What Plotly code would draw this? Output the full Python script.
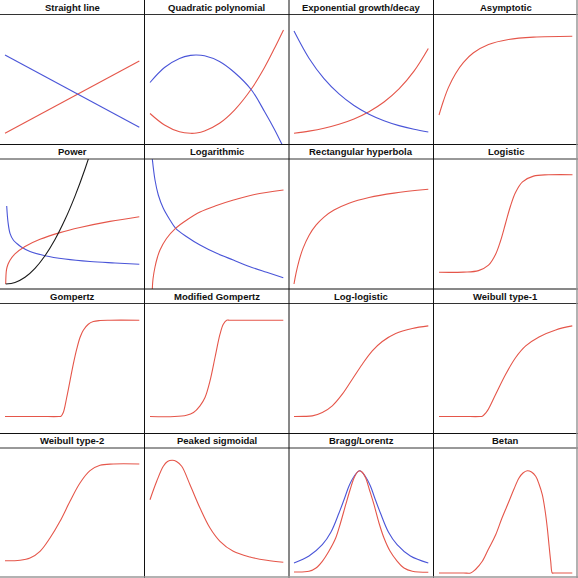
import plotly.graph_objects as go

RED = "#e5564a"
BLUE = "#4a55d8"
BLACK = "#1a1a1a"

titles = [
    "Straight line", "Quadratic polynomial", "Exponential growth/decay", "Asymptotic",
    "Power", "Logarithmic", "Rectangular hyperbola", "Logistic",
    "Gompertz", "Modified Gompertz", "Log-logistic", "Weibull type-1",
    "Weibull type-2", "Peaked sigmoidal", "Bragg/Lorentz", "Betan",
]

# values (x from panel left, y from panel bottom)
straight_x = [5, 139.3]
straight_red = [11.2, 83.5]
straight_blue = [89.5, 17.2]

quad_x = [5.5, 20, 35, 46, 52, 60, 75, 90, 107, 120, 130, 139]
quad_red = [31, 19.5, 12.7, 11.2, 11.5, 13.5, 21.2, 34.4, 55.7, 77, 96.2, 114.5]
quad_blue = [62, 77, 86, 89.1, 89.5, 88.7, 83, 72, 54.5, 33, 15, -3]

expo_x = [5, 20, 35, 50, 65, 80, 95, 110, 125, 139.3]
expo_blue = [113.5, 86.3, 65.9, 50.6, 39, 30.3, 23.8, 18.9, 15.2, 12.5]
expo_red = [11.2, 13.4, 16.3, 20.3, 25.6, 32.8, 42.5, 55.6, 73.3, 96]

asym_x = [5.5, 10, 15, 22, 30, 40, 55, 75, 100, 138.8]
asym_y = [29.5, 43.8, 57.1, 70.8, 82.2, 91.7, 100, 105, 107.4, 108.3]

power_blue_x = [6.7, 8, 10, 13.3, 16.7, 21.7, 30, 45, 65, 90, 115, 139.3]
power_blue_y = [83, 67, 55.7, 49, 45.7, 41.7, 37.5, 33.3, 30, 27.5, 26, 24.7]
power_red_x = [5.7, 6.5, 8, 10, 15, 25, 40, 60, 80, 110, 139.3]
power_red_y = [5, 19.3, 24.7, 28.8, 35.1, 42.5, 49.7, 56.4, 61.5, 67.6, 72.3]
power_black_x = [5.7, 15, 25, 35, 45, 55, 65, 75, 85, 95]
power_black_y = [5, 6.6, 11.8, 20.7, 33.3, 49.5, 69.4, 92.9, 120, 151]

log_blue_x = [7.6, 10.5, 13.8, 18.8, 25.5, 31.2, 42.2, 55.5, 72.2, 88.8, 105.5, 122.2, 138.8]
log_blue_y = [132, 109, 94, 80.7, 69, 60.7, 52.3, 44, 35.7, 29, 22.3, 16.7, 11.3]
log_red_x = [7.8, 8.5, 10.5, 13, 15.5, 22, 31, 43, 55.5, 72, 89, 110, 139]
log_red_y = [0, 10, 22, 32, 39, 50.5, 60.7, 69.5, 77, 83.5, 89, 94.5, 99]

hyper_x = [5, 7, 10, 14, 20, 27, 35, 45, 60, 80, 105, 139.3]
hyper_y = [5, 15.6, 28.2, 40.6, 53.6, 63.8, 71.9, 78.9, 85.8, 91.5, 95.9, 99.7]

logis_x = [5.5, 30, 45, 55, 62, 67, 72, 77, 82, 89, 100, 115, 139]
logis_y = [16.7, 16.9, 18.4, 23.8, 34.5, 48, 65.5, 83, 96.5, 107.2, 112.9, 114.2, 114.3]

gomp_x = [5, 40, 59, 61, 63.3, 66.7, 70, 73.3, 76.7, 80, 83.3, 88.3, 93.3, 100, 110, 139.3]
gomp_y = [17, 17, 17, 17.3, 21, 36, 52.6, 69.3, 84.3, 96, 103.3, 109.3, 112, 113, 113.3, 113.3]

mgomp_x = [5.5, 30, 42, 49, 55.5, 60.5, 65.5, 70.5, 75.5, 78.8, 82.2, 85, 100, 138.8]
mgomp_y = [17, 17, 18.3, 21, 27.7, 36, 52.6, 76, 99.3, 109.3, 113.3, 113.3, 113.3, 113.3]

loglog_x = [5, 15, 23.3, 33.3, 43.3, 53.3, 63.3, 73.3, 83.3, 93.3, 106.7, 123.3, 139.3]
loglog_y = [17, 17.1, 17.6, 21, 27.7, 39.3, 54.3, 69.3, 82.6, 92, 100, 105, 107.6]

weib1_x = [5.5, 30, 46.5, 48.8, 53.8, 62.2, 72.2, 82.2, 92.2, 105.5, 122.2, 138.8]
weib1_y = [17, 17, 17, 17.3, 22.6, 39.3, 59.3, 76, 87.6, 96.6, 103.6, 107.6]

weib2_x = [5, 20, 30, 40, 50, 60, 70, 80, 90, 100, 113.3, 139.3]
weib2_y = [17.3, 17.8, 20, 26.7, 40, 56.7, 76.7, 95, 107.3, 112.7, 114, 114]

peak_x = [5.5, 12.2, 18.8, 23, 27.8, 32, 37.2, 45.5, 55.5, 65.5, 75.5, 88.8, 105.5, 122.2, 138.8]
peak_y = [78.3, 96.7, 111.7, 116.5, 117.7, 116.5, 111.7, 93.3, 70, 50, 36.7, 26.7, 21, 17.7, 15.7]

lorentz_x = [5, 20, 33.3, 42, 50, 56, 60, 65, 70.7, 76.4, 81.4, 85.4, 91.4, 99.4, 108.1, 121.4, 139.3]
lorentz_y = [15, 22, 33.3, 46, 65, 81, 92, 101.5, 107.3, 101.5, 92, 81, 65, 46, 33.3, 22, 15]
bragg_x = [5, 20, 27, 33.3, 40, 46.7, 51.5, 56.7, 61, 65, 68, 70.7, 73.5, 76.7, 80.5, 85, 90, 95, 101, 108.3, 115, 123.3, 139.3]
bragg_y = [6, 6.7, 10, 16.7, 27, 40, 55, 73.3, 88, 100, 105.5, 107.3, 105.5, 100, 88, 73.3, 55, 40, 27, 16.7, 10, 6.7, 5.7]

betan_x = [5.5, 30, 37.2, 42, 48.8, 55, 62.2, 68.5, 75.5, 80.5, 85.5, 89.5, 93.8, 98, 102.2,
           105.5, 108.8, 111.5, 113.8, 115.5, 117.2, 118.8, 120.2, 138.8]
betan_y = [5, 5, 5, 8.5, 16.7, 29, 43.3, 60, 76.7, 89, 100, 105, 107.3, 106, 101.7,
           94, 83.3, 68, 50, 33, 16.7, 5, 5, 5]

panels = [
    [(straight_x, straight_red, RED), (straight_x, straight_blue, BLUE)],
    [(quad_x, quad_red, RED), (quad_x, quad_blue, BLUE)],
    [(expo_x, expo_red, RED), (expo_x, expo_blue, BLUE)],
    [(asym_x, asym_y, RED)],
    [(power_blue_x, power_blue_y, BLUE), (power_red_x, power_red_y, RED), (power_black_x, power_black_y, BLACK)],
    [(log_blue_x, log_blue_y, BLUE), (log_red_x, log_red_y, RED)],
    [(hyper_x, hyper_y, RED)],
    [(logis_x, logis_y, RED)],
    [(gomp_x, gomp_y, RED)],
    [(mgomp_x, mgomp_y, RED)],
    [(loglog_x, loglog_y, RED)],
    [(weib1_x, weib1_y, RED)],
    [(weib2_x, weib2_y, RED)],
    [(peak_x, peak_y, RED)],
    [(lorentz_x, lorentz_y, BLUE), (bragg_x, bragg_y, RED)],
    [(betan_x, betan_y, RED)],
]

W = 578
CELL = W / 4
HEAD = 14.5

fig = go.Figure()
layout = {}
shapes = []
annotations = []
for i, (title, curves) in enumerate(zip(titles, panels)):
    r, c = divmod(i, 4)
    n = "" if i == 0 else str(i + 1)
    top = 1 - (r * CELL + HEAD) / W
    bottom = 1 - (r + 1) * CELL / W
    layout["xaxis" + n] = dict(domain=[c / 4, (c + 1) / 4], range=[0, CELL], visible=False, fixedrange=True)
    layout["yaxis" + n] = dict(domain=[bottom, top], range=[0, CELL - HEAD], visible=False, fixedrange=True)
    for xs, ys, col in curves:
        fig.add_trace(go.Scatter(x=xs, y=ys, mode="lines", xaxis="x" + n, yaxis="y" + n,
                                 line=dict(color=col, width=1.1, shape="spline", smoothing=1.0),
                                 hoverinfo="skip", showlegend=False))
    annotations.append(dict(text=title, x=(c + 0.5) / 4, y=1 - (r * CELL + HEAD / 2) / W,
                            xref="paper", yref="paper", showarrow=False, xanchor="center", yanchor="middle",
                            font=dict(family="Liberation Sans, Arial, sans-serif", size=9.5, color="#111", weight="bold")))
    shapes.append(dict(type="line", xref="paper", yref="paper", x0=c / 4, x1=(c + 1) / 4,
                       y0=top, y1=top, line=dict(color="#333", width=1)))

for k in range(1, 4):
    shapes.append(dict(type="line", xref="paper", yref="paper", x0=k / 4, x1=k / 4, y0=0, y1=1,
                       line=dict(color="#111", width=1)))
    shapes.append(dict(type="line", xref="paper", yref="paper", x0=0, x1=1, y0=1 - k / 4, y1=1 - k / 4,
                       line=dict(color="#111", width=1)))
shapes.append(dict(type="line", xref="paper", yref="paper", x0=1 - 1 / W, x1=1 - 1 / W, y0=0, y1=1,
                   line=dict(color="#999", width=1.5)))
shapes.append(dict(type="line", xref="paper", yref="paper", x0=0, x1=1, y0=1 / W, y1=1 / W,
                   line=dict(color="#999", width=1.5)))

fig.update_layout(width=W, height=W, margin=dict(l=0, r=0, t=0, b=0, pad=0),
                  paper_bgcolor="white", plot_bgcolor="white",
                  shapes=shapes, annotations=annotations, **layout)
# the page's default body margin would push the figure off the window
fig.write_html("out.html", config={"displayModeBar": False},
               post_script="document.body.style.margin='0';document.body.style.overflow='hidden';")
